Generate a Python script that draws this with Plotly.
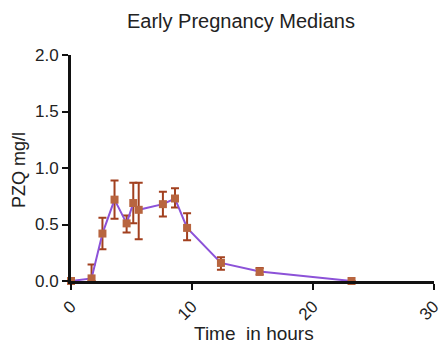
import plotly.graph_objects as go

time_h = [0, 1.7, 2.6, 3.6, 4.6, 5.15, 5.6, 7.6, 8.6, 9.6, 12.4, 15.6, 23.2]
median = [0.0, 0.023, 0.42, 0.72, 0.51, 0.69, 0.63, 0.68, 0.73, 0.47, 0.16, 0.085, 0.0]
err_hi = [0.0, 0.145, 0.56, 0.89, 0.58, 0.87, 0.87, 0.79, 0.82, 0.60, 0.21, 0.115, 0.0]
err_lo = [0.0, 0.0, 0.28, 0.55, 0.43, 0.51, 0.37, 0.57, 0.65, 0.36, 0.10, 0.055, 0.0]

x_ticks = [0, 10, 20, 30]
y_ticks = [0, 0.5, 1.0, 1.5, 2.0]

plus = [h - m for h, m in zip(err_hi, median)]
minus = [m - l for m, l in zip(median, err_lo)]

font = "Liberation Sans, Arial, sans-serif"
txt = "#222222"

W, H = 440, 343
L, T, R, B = 71, 55, 6, 62
pw, ph = W - L - R, H - T - B

def px(xp):
    return (xp - L) / pw

def py(yp):
    return (H - B - yp) / ph

fig = go.Figure()
fig.add_trace(go.Scatter(
    x=time_h, y=median, mode="lines+markers",
    line=dict(color="#8c52d8", width=2),
    marker=dict(symbol="square", size=8, color="#b8653f"),
    error_y=dict(type="data", symmetric=False, array=plus, arrayminus=minus,
                 color="#a2401f", thickness=2, width=4),
    cliponaxis=False, showlegend=False,
))

fig.update_layout(
    width=W, height=H,
    margin=dict(l=L, r=R, t=T, b=B, autoexpand=False),
    paper_bgcolor="white", plot_bgcolor="white",
    font=dict(family=font, size=17, color=txt),
    annotations=[
        dict(text="Early Pregnancy Medians", x=px(241), y=py(21), xref="paper", yref="paper",
             showarrow=False, font=dict(size=20, family=font, color=txt),
             xanchor="center", yanchor="middle"),
        dict(text="Time  in hours", x=px(254), y=py(333), xref="paper", yref="paper",
             showarrow=False, font=dict(size=19, family=font, color=txt),
             xanchor="center", yanchor="middle"),
        dict(text="PZQ mg/l", x=px(19), y=py(170), xref="paper", yref="paper",
             showarrow=False, textangle=-90, font=dict(size=18, family=font, color=txt),
             xanchor="center", yanchor="middle"),
    ],
)

fig.update_xaxes(
    range=[0, 30.02], tickvals=x_ticks, tickangle=-45, automargin=False,
    ticklabeloverflow="allow",
    showline=True, linecolor="#111111", linewidth=3,
    ticks="outside", ticklen=6, tickwidth=2, tickcolor="#111111",
    showgrid=False, zeroline=False,
    tickfont=dict(size=17, family=font, color=txt),
)
fig.update_yaxes(
    range=[0, 2.0], tickvals=y_ticks, tickformat=".1f", automargin=False,
    ticklabeloverflow="allow",
    showline=True, linecolor="#111111", linewidth=3,
    ticks="outside", ticklen=6, tickwidth=2, tickcolor="#111111",
    showgrid=False, zeroline=False,
    tickfont=dict(size=17, family=font, color=txt),
)

fig.write_html(
    "out.html",
    config={"displayModeBar": False},
    post_script="document.body.style.margin='0';document.body.style.overflow='hidden';",
)
